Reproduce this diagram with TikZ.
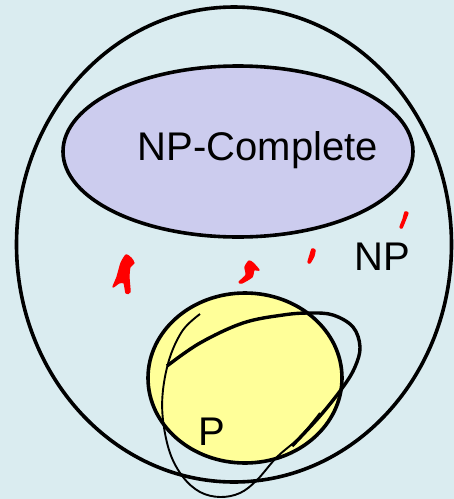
\documentclass[tikz,border=0pt]{standalone}
\usepackage{fontspec}
\setmainfont{Liberation Sans}
\definecolor{bgblue}{RGB}{218,236,240}
\definecolor{npcfill}{RGB}{204,204,238}
\definecolor{pfill}{RGB}{255,255,153}
\begin{document}
\begin{tikzpicture}[x=1pt,y=-1pt,
  setline/.style={draw=black,line width=3.6pt},
  lbl/.style={inner sep=0pt,anchor=base,font=\fontsize{40}{42}\selectfont},
  scribthin/.style={draw=black,line width=1.9pt},
  scribthick/.style={draw=black,line width=3.4pt},
  redmark/.style={fill=red,draw=red,line width=1.2pt,line join=round}]
\fill[bgblue] (0,0) rectangle (454,499);
\useasboundingbox (0,0) rectangle (454,499);
% NP outer set
\draw[setline] (234,244.5) ellipse [x radius=217.5pt, y radius=237.5pt];
% NP-Complete
\draw[setline,fill=npcfill] (238,151.5) ellipse [x radius=175pt, y radius=85.5pt];
\node[lbl] (npc) at (258,160) {NP-Complete};
\node[lbl] (np) at (382.5,270) {NP};
% P
\draw[setline,fill=pfill] (245,378) ellipse [x radius=97pt, y radius=85pt];
\node[lbl] (p) at (212,445) {P};
% scribbles
\draw[scribthin] plot[smooth,tension=0.6] coordinates {(200,314) (183,330) (170,357) (163,390) (163,420) (170,453) (183,477) (200,492) (220,497) (240,493) (257,480) (277,457) (300,437) (320,413)};
\draw[scribthick] plot[smooth,tension=0.6] coordinates {(292,446) (320,416) (343,387) (355,367) (360,347) (353,327) (333,315) (310,313) (283,315) (243,323) (200,343) (167,366)};
% red marks
\filldraw[redmark] plot[smooth cycle,tension=0.4] coordinates {(113,287) (117,277) (121,263) (126,255) (131,258) (134,263) (130,267) (129,277) (130,292) (126,293) (124,283) (119,283)};
\filldraw[redmark] plot[smooth cycle,tension=0.4] coordinates {(239,282) (246,275) (245,267) (249,261) (253,263) (259,270) (254,270) (252,277) (242,283)};
\filldraw[redmark] plot[smooth cycle,tension=0.4] coordinates {(308,262) (310,255) (312,249) (315,250) (314,256) (310,263)};
\filldraw[redmark] plot[smooth cycle,tension=0.4] coordinates {(400,227) (403,219) (405,212) (408,213) (405,221) (402,228)};
\end{tikzpicture}
\end{document}
